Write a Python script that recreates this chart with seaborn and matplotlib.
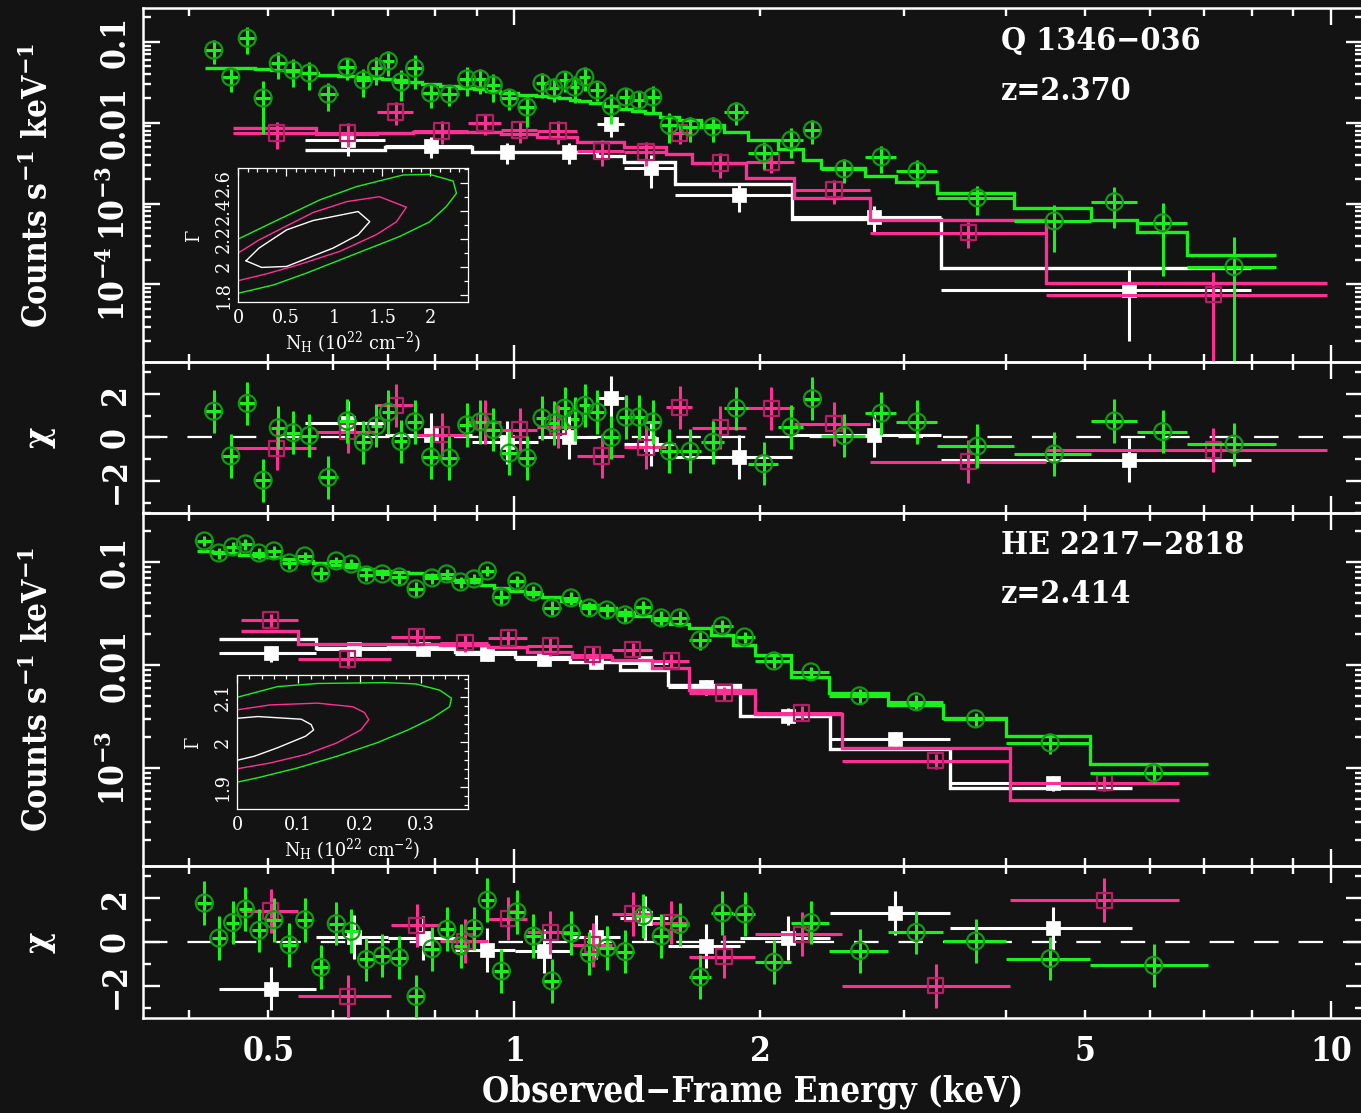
import numpy as np
import matplotlib
matplotlib.use("Agg")
import matplotlib.pyplot as plt
import seaborn as sns
from matplotlib.ticker import FixedLocator, FixedFormatter, NullFormatter, FuncFormatter, MultipleLocator

# ------------------------------------------------------------------ data
# Q 1346-036 (top spectrum): bin edges (keV), counts/s/keV, 1-sigma errors, model, chi
q_green_edges = [0.418, 0.439, 0.460, 0.482, 0.503, 0.525, 0.547, 0.575, 0.608, 0.640, 0.667, 0.689,
                 0.713, 0.740, 0.770, 0.810, 0.856, 0.893, 0.924, 0.961, 1.011, 1.062, 1.101, 1.135,
                 1.170, 1.201, 1.239, 1.287, 1.343, 1.395, 1.447, 1.508, 1.589, 1.695, 1.806, 1.935,
                 2.106, 2.258, 2.378, 2.692, 2.938, 3.290, 4.088, 5.080, 5.785, 6.663, 8.561]
q_green_cts = [0.0790, 0.0367, 0.111, 0.0202, 0.0546, 0.0448, 0.0411, 0.0226, 0.0488, 0.0336, 0.0473,
               0.0578, 0.0318, 0.0473, 0.0233, 0.0226, 0.0347, 0.0347, 0.0292, 0.0202, 0.0156, 0.0309,
               0.0268, 0.0336, 0.0276, 0.0367, 0.0254, 0.0161, 0.0208, 0.0190, 0.0208, 0.00938, 0.00885,
               0.00885, 0.0136, 0.00423, 0.00611, 0.00813, 0.00268, 0.00377, 0.00253, 0.00118, 0.000611,
               0.00105, 0.000578, 0.000166]
q_green_err = [0.026, 0.0125, 0.040, 0.013, 0.020, 0.017, 0.016, 0.0088, 0.0146, 0.013, 0.018, 0.0197,
               0.013, 0.0215, 0.0080, 0.0065, 0.0136, 0.012, 0.011, 0.006, 0.0068, 0.0106, 0.009, 0.0099,
               0.0101, 0.0123, 0.0068, 0.0065, 0.0064, 0.0054, 0.008, 0.0038, 0.003, 0.003, 0.0043,
               0.00155, 0.0025, 0.0026, 0.0009, 0.0014, 0.00094, 0.00045, 0.00036, 0.00055, 0.00045, 0.00022]
q_green_mod = [0.0473, 0.0473, 0.0473, 0.0460, 0.0448, 0.0435, 0.0411, 0.0388, 0.0377, 0.0367, 0.0356,
               0.0347, 0.0336, 0.0318, 0.0300, 0.0284, 0.0268, 0.0261, 0.0246, 0.0233, 0.0220, 0.0214,
               0.0208, 0.0202, 0.0190, 0.0185, 0.0175, 0.0161, 0.0148, 0.0139, 0.0132, 0.0118, 0.0108,
               0.00938, 0.00768, 0.00611, 0.00473, 0.00347, 0.00276, 0.00220, 0.00185, 0.00136, 0.000885,
               0.000630, 0.000448, 0.000233]
q_green_chi = [1.21, -0.85, 1.57, -1.97, 0.45, 0.22, 0.09, -1.84, 0.76, -0.22, 0.54, 1.17, -0.18, 0.72,
               -0.90, -0.94, 0.58, 0.72, 0.36, -0.72, -0.94, 0.90, 0.67, 1.35, 0.85, 1.48, 1.17, 0.0, 0.94,
               0.94, 0.72, -0.63, -0.63, -0.22, 1.35, -1.21, 0.49, 1.79, 0.09, 1.12, 0.72, -0.40, -0.76,
               0.76, 0.27, -0.31]

q_pink_edges = [0.452, 0.572, 0.679, 0.752, 0.878, 0.964, 1.067, 1.195, 1.364, 1.536, 1.652, 1.924,
                2.203, 2.723, 4.474, 9.89]
q_pink_cts = [0.00747, 0.00747, 0.01355, 0.00790, 0.00992, 0.00813, 0.00790, 0.00448, 0.00435, 0.00747,
              0.00318, 0.00327, 0.00148, 0.000435, 0.0000746]
q_pink_err = [0.0028, 0.0025, 0.0043, 0.0025, 0.0028, 0.0025, 0.0025, 0.0016, 0.0014, 0.0020, 0.0011,
              0.0009, 0.0005, 0.00015, 0.00007]
q_pink_mod = [0.00861, 0.00725, 0.00747, 0.00768, 0.00768, 0.00725, 0.00665, 0.00578, 0.00501, 0.00411,
              0.00318, 0.00207, 0.00118, 0.000630, 0.000105]
q_pink_chi = [-0.49, 0.27, 1.48, 0.13, 0.72, 0.36, 0.5, -0.85, -0.45, 1.39, 0.45, 1.35, 0.63, -1.12, -0.58]

q_white_edges = [0.5545, 0.6952, 0.8882, 1.070, 1.264, 1.364, 1.575, 2.191, 3.327, 7.98]
q_white_cts = [0.00611, 0.00515, 0.00435, 0.00435, 0.00964, 0.00276, 0.00128, 0.000685, 0.0000861]
q_white_err = [0.0022, 0.0015, 0.0013, 0.0013, 0.003, 0.0012, 0.0005, 0.00025, 0.000066]
q_white_mod = [0.00460, 0.00501, 0.00435, 0.00435, 0.00388, 0.00327, 0.00175, 0.000648, 0.000161]
q_white_chi = [0.67, 0.13, -0.22, 0.0, 1.84, -0.31, -0.9, 0.1, -1.03]

# HE 2217-2818 (bottom spectrum)
h_green_edges = [0.4088, 0.4258, 0.4436, 0.4603, 0.4768, 0.4967, 0.5189, 0.5414, 0.5664, 0.5926, 0.6181,
                 0.6448, 0.6735, 0.7055, 0.7404, 0.7757, 0.8103, 0.8431, 0.8758, 0.9097, 0.9438, 0.9846,
                 1.030, 1.081, 1.142, 1.205, 1.266, 1.331, 1.403, 1.476, 1.551, 1.636, 1.741, 1.855,
                 1.974, 2.185, 2.432, 2.865, 3.346, 3.998, 5.066, 7.068]
h_green_cts = [0.1610, 0.1230, 0.1409, 0.1507, 0.1230, 0.1288, 0.0985, 0.1151, 0.0787, 0.1030, 0.0962,
               0.0753, 0.0770, 0.0720, 0.0551, 0.0704, 0.0770, 0.0644, 0.0689, 0.0823, 0.0460, 0.0658,
               0.0515, 0.0360, 0.0450, 0.0360, 0.0344, 0.0308, 0.0368, 0.0288, 0.0288, 0.0176, 0.0241,
               0.0188, 0.0110, 0.00861, 0.00504, 0.00441, 0.00301, 0.00176, 0.000900]
h_green_err = [0.018, 0.015, 0.016, 0.018, 0.015, 0.016, 0.012, 0.012, 0.012, 0.0105, 0.011, 0.010,
               0.0085, 0.010, 0.0095, 0.009, 0.009, 0.008, 0.0073, 0.009, 0.0077, 0.008, 0.007, 0.0056,
               0.0065, 0.005, 0.005, 0.005, 0.0056, 0.0045, 0.0045, 0.0034, 0.0033, 0.0024, 0.0017, 0.001,
               0.0008, 0.0007, 0.00045, 0.0004, 0.00019]
h_green_mod = [0.1288, 0.1259, 0.1230, 0.1177, 0.1151, 0.1125, 0.1076, 0.1030, 0.0985, 0.0942, 0.0900,
               0.0861, 0.0823, 0.0805, 0.0787, 0.0753, 0.0704, 0.0673, 0.0644, 0.0602, 0.0563, 0.0526,
               0.0492, 0.0460, 0.0421, 0.0385, 0.0360, 0.0329, 0.0301, 0.0275, 0.0252, 0.0230, 0.0197,
               0.0157, 0.0126, 0.00769, 0.00538, 0.00411, 0.00308, 0.00206, 0.00110]
h_green_chi = [1.78, 0.18, 0.89, 1.51, 0.53, 1.02, -0.13, 1.02, -1.16, 0.84, 0.49, -0.80, -0.62, -0.71,
               -2.49, -0.31, 0.58, -0.18, 0.62, 1.91, -1.33, 1.38, 0.27, -1.78, 0.40, -0.53, -0.27, -0.44,
               1.20, 0.27, 0.80, -1.60, 1.33, 1.29, -0.93, 0.89, -0.40, 0.44, 0.04, -0.76, -1.07]

h_pink_edges = [0.4630, 0.5437, 0.7068, 0.8114, 0.9292, 1.037, 1.178, 1.318, 1.476, 1.639, 1.974, 2.523,
                4.043, 6.512]
h_pink_cts = [0.0275, 0.0115, 0.0188, 0.0165, 0.0184, 0.0154, 0.0126, 0.0141, 0.0110, 0.00538, 0.00344,
              0.00118, 0.000720]
h_pink_err = [0.0042, 0.0022, 0.0036, 0.003, 0.0031, 0.003, 0.0025, 0.0022, 0.0018, 0.0008, 0.0006,
              0.0002, 0.00012]
h_pink_mod = [0.0215, 0.0161, 0.0161, 0.0157, 0.0151, 0.0135, 0.0120, 0.0113, 0.00941, 0.00575, 0.00336,
              0.00157, 0.000492]
h_pink_chi = [1.42, -2.49, 0.76, 0.04, 1.07, 0.44, -0.13, 1.29, 0.89, -0.67, 0.36, -2.0, 1.91]

h_white_edges = [0.4349, 0.5720, 0.7008, 0.8466, 1.003, 1.171, 1.349, 1.544, 1.892, 2.439, 3.421, 5.703]
h_white_cts = [0.01316, 0.01439, 0.01439, 0.01288, 0.01151, 0.01076, 0.01052, 0.00615, 0.00322, 0.00193,
               0.000720]
h_white_err = [0.0023, 0.002, 0.002, 0.0018, 0.0016, 0.0015, 0.0014, 0.001, 0.0006, 0.0003, 0.00012]
h_white_mod = [0.0180, 0.0147, 0.0151, 0.0135, 0.0120, 0.01076, 0.0090, 0.00644, 0.00322, 0.00154,
               0.000644]
h_white_chi = [-2.13, 0.22, 0.18, -0.36, -0.4, 0.22, 1.11, -0.18, 0.18, 1.33, 0.62]

# Confidence contours (N_H in 1e22 cm^-2, photon index Gamma)
q_cont_white_nh = [0.083, 0.246, 0.505, 0.988, 1.248, 1.369, 1.248, 0.781, 0.505, 0.218, 0.083]
q_cont_white_g = [2.042, 1.995, 2.002, 2.133, 2.228, 2.322, 2.394, 2.330, 2.263, 2.133, 2.042]
q_cont_pink_nh = [0.0, 0.22, 0.78, 1.13, 1.47, 1.75, 1.645, 1.44, 1.06, 0.61, 0.30, 0.0]
q_cont_pink_g = [2.097, 2.192, 2.387, 2.465, 2.50, 2.425, 2.32, 2.23, 2.11, 2.01, 1.95, 1.90]
q_cont_green_nh = [0.0, 0.37, 0.85, 1.23, 1.715, 1.99, 2.235, 2.27, 2.165, 1.99, 1.68, 1.195, 0.71, 0.37, 0.0]
q_cont_green_g = [2.197, 2.32, 2.477, 2.572, 2.655, 2.66, 2.612, 2.525, 2.43, 2.32, 2.216, 2.085, 1.954,
                  1.87, 1.81]

h_cont_white_nh = [0.0, 0.034, 0.105, 0.121, 0.125, 0.112, 0.066, 0.028, 0.0]
h_cont_white_g = [2.053, 2.057, 2.051, 2.039, 2.027, 2.013, 1.987, 1.968, 1.959]
h_cont_pink_nh = [0.0, 0.054, 0.131, 0.189, 0.208, 0.215, 0.202, 0.163, 0.112, 0.054, 0.0]
h_cont_pink_g = [2.072, 2.083, 2.087, 2.079, 2.066, 2.050, 2.027, 1.998, 1.972, 1.953, 1.940]
h_cont_green_nh = [0.0, 0.066, 0.131, 0.241, 0.292, 0.331, 0.350, 0.347, 0.318, 0.279, 0.228, 0.163,
                   0.099, 0.034, 0.0]
h_cont_green_g = [2.100, 2.124, 2.131, 2.133, 2.130, 2.116, 2.098, 2.079, 2.053, 2.027, 1.998, 1.968,
                  1.942, 1.920, 1.910]

# Texts / tick labels
q_name, q_z = "Q 1346\u2212036", "z=2.370"
h_name, h_z = "HE 2217\u22122818", "z=2.414"
x_label = "Observed\u2212Frame Energy (keV)"
y_label = "Counts s$^{\\mathbf{-1}}$ keV$^{\\mathbf{-1}}$"
chi_label = "\u03c7"
inset_xlabel = "N$_{\\mathregular{H}}$ (10$^{22}$ cm$^{-2}$)"
inset_ylabel = "\u0393"
x_major_ticks = [1, 10]
x_major_labels = ["1", "10"]
x_minor_ticks = [0.4, 0.5, 0.6, 0.7, 0.8, 0.9, 2, 3, 4, 5, 6, 7, 8, 9]
x_minor_labelled = [0.5, 2, 5]
q_y_ticks = [1e-4, 1e-3, 1e-2, 1e-1]
q_y_labels = ["10$^{\\mathbf{-4}}$", "10$^{\\mathbf{-3}}$", "0.01", "0.1"]
h_y_ticks = [1e-3, 1e-2, 1e-1]
h_y_labels = ["10$^{\\mathbf{-3}}$", "0.01", "0.1"]
chi_ticks = [-2, 0, 2]
chi_labels = ["\u22122", "0", "2"]
chi_minor = [-3, -1, 1, 3]
q_in_xticks = [0, 0.5, 1, 1.5, 2]
q_in_yticks = [1.8, 2.0, 2.2, 2.4, 2.6]
h_in_xticks = [0, 0.1, 0.2, 0.3]
h_in_yticks = [1.9, 2.0, 2.1]

# ------------------------------------------------------------------ style
BG = "#131313"
GREEN = "#1cf01c"
GREEN_EDGE = "#139a13"
PINK = "#ff3095"
PINK_EDGE = "#b81e66"
WHITE = "#ffffff"

sns.set_theme(style="dark", rc={"axes.facecolor": BG, "figure.facecolor": BG,
                                "axes.edgecolor": "white", "text.color": "white",
                                "xtick.color": "white", "ytick.color": "white",
                                "axes.labelcolor": "white"})
plt.rcParams["font.family"] = ["DejaVu Serif", "DejaVu Sans"]
plt.rcParams["font.stretch"] = "condensed"
plt.rcParams["font.weight"] = "bold"
plt.rcParams["axes.labelweight"] = "bold"
plt.rcParams["mathtext.fontset"] = "dejavuserif"
plt.rcParams["mathtext.default"] = "regular"

W, H = 1361, 1113
fig = plt.figure(figsize=(W / 100, H / 100), dpi=100, facecolor=BG)


def px_axes(x0, y0, x1, y1):
    return fig.add_axes([x0 / W, 1 - y1 / H, (x1 - x0) / W, (y1 - y0) / H])


XMIN, XMAX = 0.351, 10.95
FS = 24


def style_main(ax, labels_bottom):
    ax.set_facecolor("none")
    ax.grid(False)
    for s in ax.spines.values():
        s.set_visible(True)
        s.set_color("white")
        s.set_linewidth(1.8)
    ax.set_xscale("log")
    ax.set_xlim(XMIN, XMAX)
    ax.xaxis.set_major_locator(FixedLocator(x_major_ticks))
    ax.xaxis.set_minor_locator(FixedLocator(x_minor_ticks))
    if labels_bottom:
        ax.xaxis.set_major_formatter(FixedFormatter(x_major_labels))
        ax.xaxis.set_minor_formatter(FuncFormatter(
            lambda v, p: ("%g" % v) if any(np.isclose(v, t) for t in x_minor_labelled) else ""))
    else:
        ax.xaxis.set_major_formatter(NullFormatter())
        ax.xaxis.set_minor_formatter(NullFormatter())
    ax.tick_params(which="both", direction="in", colors="white", top=True, right=True,
                   bottom=True, left=True, width=1.7, labelsize=FS)
    ax.tick_params(which="major", length=12)
    ax.tick_params(which="minor", length=6)
    ax.tick_params(axis="x", which="both", pad=12)
    ax.tick_params(axis="y", which="both", pad=8, labelrotation=90)


def style_log_y(ax, lo, hi, ticks, labels):
    ax.set_yscale("log")
    ax.set_ylim(lo, hi)
    ax.yaxis.set_major_locator(FixedLocator(ticks))
    ax.yaxis.set_major_formatter(FixedFormatter(labels))
    decs = np.arange(np.floor(np.log10(lo)), np.ceil(np.log10(hi)))
    ax.yaxis.set_minor_locator(FixedLocator([m * 10.0 ** d for d in decs for m in range(2, 10)]))
    ax.yaxis.set_minor_formatter(NullFormatter())
    for t in ax.get_yticklabels():
        t.set_va("center")


def style_chi_y(ax):
    ax.set_ylim(-3.48, 3.48)
    ax.yaxis.set_major_locator(FixedLocator(chi_ticks))
    ax.yaxis.set_major_formatter(FixedFormatter(chi_labels))
    ax.yaxis.set_minor_locator(FixedLocator(chi_minor))
    ax.yaxis.set_minor_formatter(NullFormatter())
    for t in ax.get_yticklabels():
        t.set_va("center")
    ax.axhline(0, color="white", lw=1.6, dashes=(11, 9), zorder=1)


MARK = {
    "green": dict(marker="o", s=150, facecolor="none", edgecolor=GREEN_EDGE, linewidth=1.6),
    "pink": dict(marker="s", s=120, facecolor="none", edgecolor=PINK_EDGE, linewidth=1.6),
    "white": dict(marker="s", s=95, facecolor=WHITE, edgecolor=WHITE, linewidth=0.5),
}
COL = {"green": GREEN, "pink": PINK, "white": WHITE}


def centers(edges):
    e = np.asarray(edges)
    return (e[:-1] + e[1:]) / 2, (e[1:] - e[:-1]) / 2


def draw_spec(ax, key, edges, cts, err, mod, z):
    c, xe = centers(edges)
    ax.errorbar(c, cts, xerr=xe, yerr=err, fmt="none", ecolor=COL[key], elinewidth=2.2,
                capsize=0, zorder=z)
    ax.stairs(mod, edges, color=COL[key], lw=2.4, zorder=z + 0.2, baseline=None)
    sns.scatterplot(x=c, y=cts, ax=ax, zorder=z + 0.4, legend=False, **MARK[key])


def draw_chi(ax, key, edges, chi, z):
    c, xe = centers(edges)
    ax.errorbar(c, chi, xerr=xe, yerr=np.ones(len(chi)), fmt="none", ecolor=COL[key],
                elinewidth=2.2, capsize=0, zorder=z)
    sns.scatterplot(x=c, y=chi, ax=ax, zorder=z + 0.4, legend=False, **MARK[key])


# ------------------------------------------------------------------ axes
ax1 = px_axes(143, 8, 1363, 362)
ax2 = px_axes(143, 362, 1363, 513)
ax3 = px_axes(143, 513, 1363, 866)
ax4 = px_axes(143, 866, 1363, 1018)

for ax, lb in [(ax1, False), (ax2, False), (ax3, False), (ax4, True)]:
    style_main(ax, lb)

# top spectrum
draw_spec(ax1, "white", q_white_edges, q_white_cts, q_white_err, q_white_mod, 3)
draw_spec(ax1, "pink", q_pink_edges, q_pink_cts, q_pink_err, q_pink_mod, 4)
draw_spec(ax1, "green", q_green_edges, q_green_cts, q_green_err, q_green_mod, 5)
style_log_y(ax1, 1.1e-5, 0.262, q_y_ticks, q_y_labels)
ax1.text(0.7036, 0.904, q_name, transform=ax1.transAxes, fontsize=FS - 1, color="white",
         ha="left", va="center")
ax1.text(0.7036, 0.765, q_z, transform=ax1.transAxes, fontsize=FS - 1, color="white",
         ha="left", va="center")

draw_chi(ax2, "white", q_white_edges, q_white_chi, 3)
draw_chi(ax2, "pink", q_pink_edges, q_pink_chi, 4)
draw_chi(ax2, "green", q_green_edges, q_green_chi, 5)
style_chi_y(ax2)

# bottom spectrum
draw_spec(ax3, "white", h_white_edges, h_white_cts, h_white_err, h_white_mod, 3)
draw_spec(ax3, "pink", h_pink_edges, h_pink_cts, h_pink_err, h_pink_mod, 4)
draw_spec(ax3, "green", h_green_edges, h_green_cts, h_green_err, h_green_mod, 5)
style_log_y(ax3, 1.12e-4, 0.301, h_y_ticks, h_y_labels)
ax3.text(0.7036, 0.909, h_name, transform=ax3.transAxes, fontsize=FS - 1, color="white",
         ha="left", va="center")
ax3.text(0.7036, 0.770, h_z, transform=ax3.transAxes, fontsize=FS - 1, color="white",
         ha="left", va="center")

draw_chi(ax4, "white", h_white_edges, h_white_chi, 3)
draw_chi(ax4, "pink", h_pink_edges, h_pink_chi, 4)
draw_chi(ax4, "green", h_green_edges, h_green_chi, 5)
style_chi_y(ax4)

for ax in (ax1, ax3):
    ax.set_ylabel(y_label, fontsize=FS, color="white", fontweight="bold")
    ax.yaxis.set_label_coords(-0.072, 0.5)
for ax in (ax2, ax4):
    ax.set_ylabel(chi_label, fontsize=FS + 2, color="white", fontweight="bold")
    ax.yaxis.set_label_coords(-0.072, 0.5)
ax4.set_xlabel(x_label, fontsize=FS + 1, color="white", fontweight="bold", labelpad=5)


# ------------------------------------------------------------------ insets
def style_inset(ax, xlim, ylim, xt, yt, xminor, yminor):
    ax.set_facecolor("none")
    ax.grid(False)
    for s in ax.spines.values():
        s.set_visible(True)
        s.set_color("white")
        s.set_linewidth(0.9)
    ax.set_xlim(*xlim)
    ax.set_ylim(*ylim)
    ax.xaxis.set_major_locator(FixedLocator(xt))
    ax.yaxis.set_major_locator(FixedLocator(yt))
    ax.xaxis.set_major_formatter(FuncFormatter(lambda v, p: "%g" % round(v, 3)))
    ax.yaxis.set_major_formatter(FuncFormatter(lambda v, p: "%g" % round(v, 3)))
    ax.xaxis.set_minor_locator(MultipleLocator(xminor))
    ax.yaxis.set_minor_locator(MultipleLocator(yminor))
    ax.tick_params(which="both", direction="in", colors="white", top=True, right=True,
                   width=0.9, labelsize=14)
    ax.tick_params(which="major", length=6)
    ax.tick_params(which="minor", length=3)
    ax.tick_params(axis="y", labelrotation=90, pad=4)
    ax.tick_params(axis="x", pad=5)
    for t in ax.get_xticklabels() + ax.get_yticklabels():
        t.set_fontweight("normal")
    for t in ax.get_yticklabels():
        t.set_va("center")


def inset_labels(ax):
    ax.set_xlabel(inset_xlabel, fontsize=14, color="white", labelpad=2, fontweight="normal")
    ax.set_ylabel(inset_ylabel, fontsize=14, color="white", labelpad=8, fontweight="normal")


in1 = px_axes(238, 168, 468, 302)
style_inset(in1, (0, 2.39), (1.748, 2.705), q_in_xticks, q_in_yticks, 0.1, 0.1)
sns.lineplot(x=q_cont_green_nh, y=q_cont_green_g, ax=in1, sort=False, estimator=None, color=GREEN, lw=1.0)
sns.lineplot(x=q_cont_pink_nh, y=q_cont_pink_g, ax=in1, sort=False, estimator=None, color=PINK, lw=1.0)
sns.lineplot(x=q_cont_white_nh, y=q_cont_white_g, ax=in1, sort=False, estimator=None, color=WHITE, lw=1.0)
inset_labels(in1)

in2 = px_axes(237, 675, 468, 809)
style_inset(in2, (0, 0.377), (1.85, 2.15), h_in_xticks, h_in_yticks, 0.02, 0.02)
sns.lineplot(x=h_cont_green_nh, y=h_cont_green_g, ax=in2, sort=False, estimator=None, color=GREEN, lw=1.0)
sns.lineplot(x=h_cont_pink_nh, y=h_cont_pink_g, ax=in2, sort=False, estimator=None, color=PINK, lw=1.0)
sns.lineplot(x=h_cont_white_nh, y=h_cont_white_g, ax=in2, sort=False, estimator=None, color=WHITE, lw=1.0)
inset_labels(in2)

fig.savefig("out.png", dpi=100, facecolor=BG)
